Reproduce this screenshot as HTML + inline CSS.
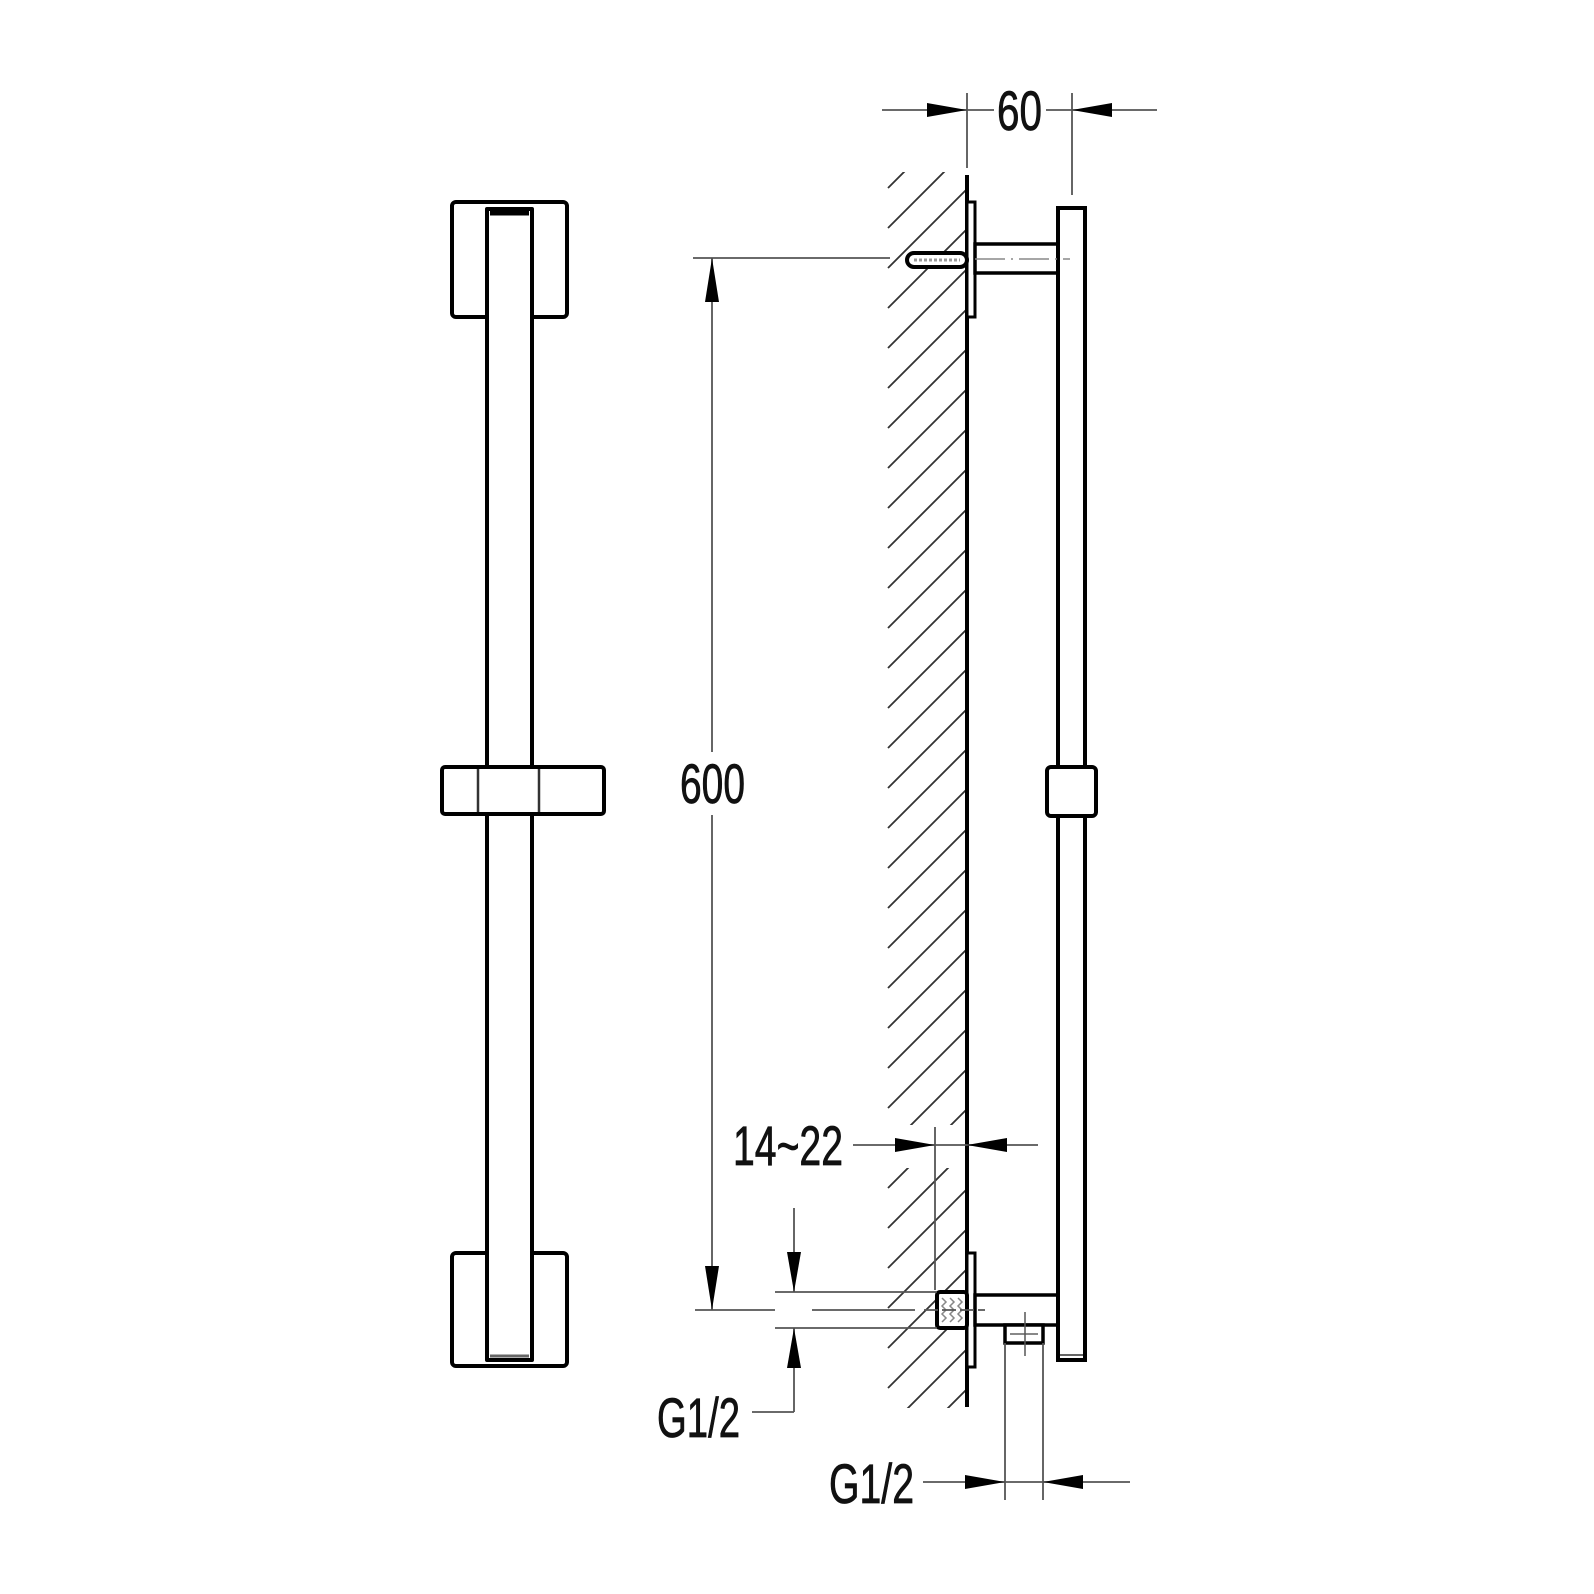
<!DOCTYPE html>
<html><head><meta charset="utf-8"><style>
html,body{margin:0;padding:0;background:#fff}
svg{display:block}
text{font-family:"Liberation Sans",sans-serif;fill:#111}
</style></head><body>
<svg width="1594" height="1594" viewBox="0 0 1594 1594" xmlns="http://www.w3.org/2000/svg">
<defs>
<clipPath id="hc">
<rect x="887" y="172" width="78" height="953"/>
<rect x="887" y="1168" width="78" height="240"/>
</clipPath>
</defs>
<!-- LEFT VIEW -->
<g fill="none" stroke="#000" stroke-width="4" stroke-linejoin="round">
<rect x="452" y="202" width="115" height="115" rx="4" fill="#fff"/>
<rect x="452" y="1253" width="115" height="113" rx="4" fill="#fff"/>
<rect x="487" y="209" width="45" height="1151" fill="#fff"/>
<rect x="442" y="767" width="162" height="47" rx="3" fill="#fff"/>
</g>
<line x1="490" y1="213" x2="529" y2="213" stroke="#000" stroke-width="5"/>
<line x1="478" y1="769" x2="478" y2="812" stroke="#333" stroke-width="2.5"/>
<line x1="539" y1="769" x2="539" y2="812" stroke="#333" stroke-width="2.5"/>
<line x1="490" y1="1356" x2="529" y2="1356" stroke="#666" stroke-width="3"/>

<!-- HATCHING -->
<g clip-path="url(#hc)" stroke="#333" stroke-width="1.8" fill="none">
<path d="M888 148 l80 -80 M888 188 l80 -80 M888 228 l80 -80 M888 268 l80 -80 M888 308 l80 -80 M888 348 l80 -80 M888 388 l80 -80 M888 428 l80 -80 M888 468 l80 -80 M888 508 l80 -80 M888 548 l80 -80 M888 588 l80 -80 M888 628 l80 -80 M888 668 l80 -80 M888 708 l80 -80 M888 748 l80 -80 M888 788 l80 -80 M888 828 l80 -80 M888 868 l80 -80 M888 908 l80 -80 M888 948 l80 -80 M888 988 l80 -80 M888 1028 l80 -80 M888 1068 l80 -80 M888 1108 l80 -80 M888 1148 l80 -80 M888 1188 l80 -80 M888 1228 l80 -80 M888 1268 l80 -80 M888 1308 l80 -80 M888 1348 l80 -80 M888 1388 l80 -80 M888 1428 l80 -80 M888 1468 l80 -80"/>
</g>

<!-- RIGHT VIEW -->
<line x1="967" y1="175" x2="967" y2="1407" stroke="#000" stroke-width="4"/>
<rect x="967" y="202" width="8" height="115" fill="#fff" stroke="#000" stroke-width="3"/>
<rect x="967" y="1253" width="8" height="114" fill="#fff" stroke="#000" stroke-width="3"/>
<rect x="975" y="244" width="83" height="29" fill="#fff" stroke="#000" stroke-width="3.5"/>
<rect x="975" y="1295" width="83" height="30" fill="#fff" stroke="#000" stroke-width="3.5"/>
<rect x="1058" y="208" width="27" height="1152" fill="#fff" stroke="#000" stroke-width="4"/>
<line x1="1060" y1="1355" x2="1083" y2="1355" stroke="#666" stroke-width="2"/>
<rect x="1047" y="767" width="49" height="49" rx="4" fill="#fff" stroke="#000" stroke-width="4"/>
<rect x="907" y="253" width="60" height="14" rx="7" fill="#fff" stroke="#000" stroke-width="4"/>
<line x1="914" y1="260" x2="960" y2="260" stroke="#999" stroke-width="3" stroke-dasharray="3 2"/>
<line x1="975" y1="259" x2="1070" y2="259" stroke="#888" stroke-width="1.5" stroke-dasharray="30 6 2 6"/>
<rect x="937" y="1292" width="30" height="36" rx="3" fill="#fff" stroke="#000" stroke-width="4"/>
<path d="M942 1298 l4 4 l-4 4 l4 4 l-4 4 l4 4 l-4 4 M950 1298 l4 4 l-4 4 l4 4 l-4 4 l4 4 l-4 4 M958 1298 l4 4 l-4 4 l4 4 l-4 4 l4 4 l-4 4" stroke="#888" stroke-width="1.5" fill="none"/>
<rect x="1005" y="1325" width="38" height="18" fill="#fff" stroke="#000" stroke-width="3.5"/>
<line x1="1010" y1="1334" x2="1038" y2="1334" stroke="#888" stroke-width="2"/>
<line x1="1025" y1="1312" x2="1025" y2="1356" stroke="#555" stroke-width="1.5"/>

<!-- DIMENSIONS -->
<g stroke="#555" stroke-width="1.8" fill="none">
<line x1="882" y1="110" x2="994" y2="110"/>
<line x1="1046" y1="110" x2="1157" y2="110"/>
<line x1="967" y1="93" x2="967" y2="168"/>
<line x1="1072" y1="93" x2="1072" y2="195"/>
<line x1="693" y1="258" x2="890" y2="258"/>
<line x1="712" y1="258" x2="712" y2="752"/>
<line x1="712" y1="815" x2="712" y2="1310"/>
<line x1="695" y1="1310" x2="775" y2="1310"/>
<line x1="812" y1="1310" x2="915" y2="1310"/>
<line x1="924" y1="1310" x2="985" y2="1310" stroke-dasharray="14 4"/>
<line x1="853" y1="1145" x2="1038" y2="1145"/>
<line x1="935" y1="1127" x2="935" y2="1290"/>
<line x1="775" y1="1292" x2="937" y2="1292"/>
<line x1="775" y1="1328" x2="937" y2="1328"/>
<line x1="794" y1="1208" x2="794" y2="1292"/>
<line x1="794" y1="1328" x2="794" y2="1412"/>
<line x1="752" y1="1412" x2="794" y2="1412"/>
<line x1="1005" y1="1343" x2="1005" y2="1500"/>
<line x1="1043" y1="1343" x2="1043" y2="1500"/>
<line x1="923" y1="1482" x2="1130" y2="1482"/>
</g>
<g fill="#000">
<polygon points="967,110 927,103 927,117"/>
<polygon points="1072,110 1112,103 1112,117"/>
<polygon points="712,258 705,302 719,302"/>
<polygon points="712,1310 705,1266 719,1266"/>
<polygon points="935,1145 895,1138 895,1152"/>
<polygon points="967,1145 1007,1138 1007,1152"/>
<polygon points="794,1292 787,1252 801,1252"/>
<polygon points="794,1328 787,1368 801,1368"/>
<polygon points="1005,1482 965,1475 965,1489"/>
<polygon points="1043,1482 1083,1475 1083,1489"/>
</g>
<g font-size="56" stroke="#111" stroke-width="0.8">
<text x="997" y="130" textLength="45" lengthAdjust="spacingAndGlyphs">60</text>
<text x="680" y="803" textLength="65" lengthAdjust="spacingAndGlyphs">600</text>
<text x="733" y="1165" textLength="110" lengthAdjust="spacingAndGlyphs">14~22</text>
<text x="657" y="1437" textLength="83" lengthAdjust="spacingAndGlyphs">G1/2</text>
<text x="829" y="1503" textLength="85" lengthAdjust="spacingAndGlyphs">G1/2</text>
</g>
</svg>
</body></html>
